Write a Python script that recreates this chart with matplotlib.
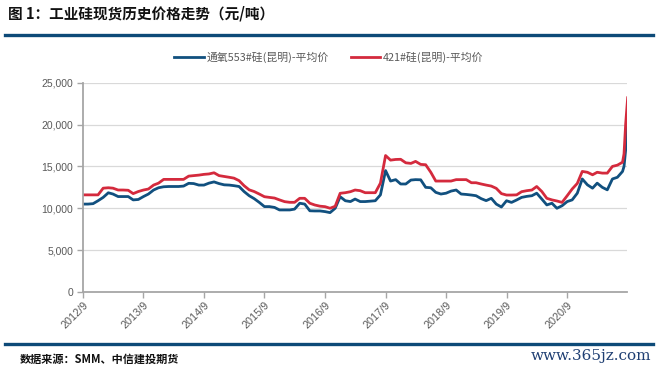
import matplotlib
matplotlib.use("Agg")
import matplotlib.pyplot as plt
import numpy as np
import pandas as pd

plt.rcParams['font.family'] = ['Noto Sans CJK SC', 'DejaVu Sans']

# 月度数据（元/吨），2012/9 - 2021/8，末尾补充8月下旬的快速上涨
months = pd.date_range("2012-09-01", "2021-08-01", freq="MS")
extra_dates = pd.to_datetime(["2021-08-10", "2021-08-20", "2021-09-01"])

price_553 = [
    10500, 10500, 10550, 10900, 11300, 11850, 11700, 11400, 11400, 11400, 11000, 11050,
    11400, 11700, 12180, 12450, 12570, 12600, 12600, 12600, 12650, 12980, 12950, 12770,
    12770, 13000, 13150, 12950, 12800, 12770, 12700, 12600, 12000, 11500, 11150, 10700,
    10200, 10200, 10100, 9800, 9800, 9800, 9900, 10600, 10500, 9700, 9680, 9680,
    9600, 9480, 10000, 11380, 10900, 10800, 11100, 10800, 10800, 10850, 10900, 11600,
    14500, 13250, 13420, 12900, 12900, 13370, 13420, 13400, 12500, 12450, 11900, 11700,
    11800, 12050, 12180, 11700, 11650, 11580, 11500, 11150, 10910, 11190, 10500, 10150,
    10900, 10700, 10990, 11300, 11420, 11500, 11800, 11100, 10400, 10600, 10000, 10300,
    10800, 11000, 11800, 13500, 12800, 12400, 13000, 12500, 12200, 13500, 13700, 14400,
]
price_553_end = [15000, 17000, 20300]

price_421 = [
    11600, 11600, 11600, 11600, 12400, 12450, 12400, 12180, 12180, 12150, 11750, 12000,
    12180, 12300, 12770, 13000, 13450, 13450, 13450, 13450, 13450, 13840, 13900, 13960,
    14050, 14100, 14240, 13900, 13800, 13700, 13600, 13300, 12700, 12200, 12000, 11700,
    11380, 11300, 11220, 11000, 10790, 10710, 10710, 11190, 11190, 10600, 10390, 10250,
    10190, 10000, 10240, 11790, 11860, 11980, 12180, 12100, 11860, 11860, 11860, 13000,
    16300, 15750, 15830, 15850, 15430, 15360, 15600, 15240, 15200, 14300, 13250, 13250,
    13250, 13250, 13420, 13420, 13420, 13050, 13050, 12900, 12770, 12650, 12380, 11750,
    11580, 11580, 11600, 11980, 12100, 12180, 12600, 12000, 11190, 11000, 10870, 10700,
    11500, 12300, 12970, 14400, 14300, 14000, 14300, 14200, 14200, 15000, 15150, 15500,
]
price_421_end = [16500, 20100, 23200]

dates = months.append(extra_dates)
s553 = np.array(price_553 + price_553_end)
s421 = np.array(price_421 + price_421_end)

tick_dates = pd.date_range("2012-09-01", "2020-09-01", freq="12MS")
tick_labels = [f"{d.year}/{d.month}" for d in tick_dates]

blue = "#11507f"
red = "#d42a3d"
band = "#0d4a78"
gray_txt = "#595959"

fig = plt.figure(figsize=(6.58, 3.72), dpi=100)
ax = fig.add_axes([0.1261, 0.2151, 0.8268, 0.5626])

ax.plot(dates, s553, color=blue, lw=2.0, label="通氧553#硅(昆明)-平均价")
ax.plot(dates, s421, color=red, lw=2.0, label="421#硅(昆明)-平均价")

ax.set_ylim(0, 25000)
ax.set_xlim(pd.Timestamp("2012-09-01"), pd.Timestamp("2021-08-28"))
ax.set_yticks(np.arange(0, 25001, 5000))
ax.yaxis.set_major_formatter(matplotlib.ticker.FuncFormatter(lambda v, p: f"{int(v):,}"))
ax.set_xticks(tick_dates)
ax.set_xticklabels(tick_labels, rotation=45, ha="right", rotation_mode="anchor")

ax.grid(axis="y", color="#d9d9d9", lw=0.9)
ax.set_axisbelow(True)
for side in ["top", "right"]:
    ax.spines[side].set_visible(False)
for side in ["left", "bottom"]:
    ax.spines[side].set_color("#a6a6a6")
    ax.spines[side].set_linewidth(1.3)
ax.tick_params(axis="both", colors="#a6a6a6", length=4, width=1.0, labelcolor=gray_txt)
ax.tick_params(axis="y", labelsize=7.5, pad=3)
ax.tick_params(axis="x", labelsize=7.8, pad=2)
for lab in ax.get_xticklabels() + ax.get_yticklabels():
    lab.set_family(["Liberation Sans", "DejaVu Sans"])

fig.legend(loc="center", bbox_to_anchor=(0.5, 0.845), ncol=2, frameon=False,
           fontsize=7.8, handlelength=2.7, columnspacing=2.0, handletextpad=0.3,
           labelcolor=gray_txt)

fig.text(0.012, 0.965, "图 1：工业硅现货历史价格走势（元/吨）", fontsize=10.5,
         fontweight="bold", va="center", ha="left", color="#111111")
fig.add_artist(plt.Line2D([0.008, 0.992], [0.907, 0.907], color=band, lw=2.4,
                          transform=fig.transFigure))
fig.add_artist(plt.Line2D([0.008, 0.992], [0.075, 0.075], color=band, lw=2.4,
                          transform=fig.transFigure))
fig.text(0.03, 0.035, "数据来源：SMM、中信建投期货", fontsize=8, fontweight="bold",
         va="center", ha="left", color="#111111")
fig.text(0.99, 0.042, "www.365jz.com", fontsize=11, family="DejaVu Serif",
         va="center", ha="right", color="#1f3f73")

fig.savefig("out.png", dpi=100)
